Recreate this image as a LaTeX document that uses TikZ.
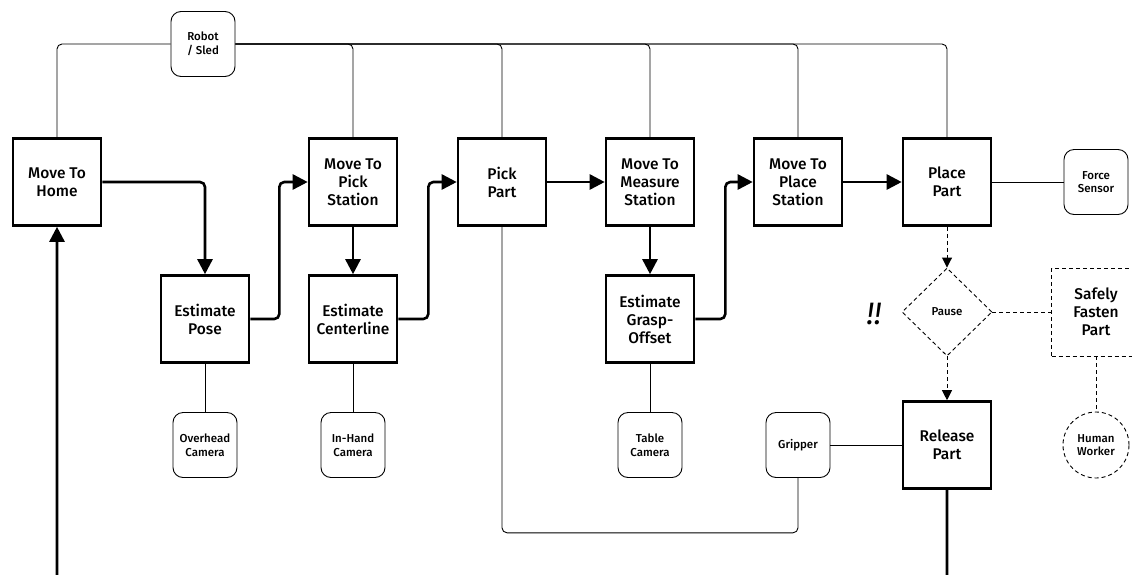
\documentclass[tikz,border=0pt]{standalone}
\usepackage{fontspec}
\setmainfont{Fira Sans Medium}
\newfontfamily\exclfont{Fira Sans}
\usetikzlibrary{arrows.meta,shapes.geometric}
\begin{document}
\begin{tikzpicture}[x=1pt,y=-1pt,
 proc/.style={draw,line width=2.6pt,minimum width=88pt,minimum height=87pt,align=center,font=\fontsize{15.5}{18}\selectfont,inner sep=0pt},
 dev/.style={draw,line width=0.9pt,rounded corners=10pt,minimum width=64pt,minimum height=65pt,align=center,font=\fontsize{11.5}{13.5}\selectfont,inner sep=0pt,fill=white},
 flow/.style={line width=2.6pt,rounded corners=5pt,-{Triangle[length=15pt,width=15pt]}},
 link/.style={line width=0.9pt,rounded corners=5pt},
 dlink/.style={line width=0.9pt,dash pattern=on 4pt off 3pt},
 dtip/.style={-{Triangle[length=10pt,width=10pt]}},
]
\clip (0,0) rectangle (1132,574);
\fill[white] (0,0) rectangle (1132,574);
% process boxes
\node[proc] (home) at (57,182) {Move To\\Home};
\node[proc] (pick) at (353,182) {Move To\\Pick\\Station};
\node[proc] (pp) at (502,182) {Pick\\Part};
\node[proc] (meas) at (650,182) {Move To\\Measure\\Station};
\node[proc] (mplace) at (798,182) {Move To\\Place\\Station};
\node[proc] (place) at (947,182) {Place\\Part};
\node[proc] (pose) at (205,319) {Estimate\\Pose};
\node[proc] (cent) at (353,319) {Estimate\\Centerline};
\node[proc] (grasp) at (650,319) {Estimate\\Grasp-\\Offset};
\node[proc] (rel) at (947,445) {Release\\Part};
% human part
\node[draw,diamond,dash pattern=on 4pt off 3pt,line width=0.9pt,minimum width=90pt,minimum height=88pt,inner sep=0pt,font=\fontsize{11.5}{13.5}\selectfont] (pause) at (947,312) {Pause};
\node[draw,dash pattern=on 4pt off 3pt,line width=0.9pt,minimum width=89pt,minimum height=88pt,align=center,inner sep=0pt,font=\fontsize{15.5}{18}\selectfont] (safe) at (1096,312) {Safely\\Fasten\\Part};
\node[draw,circle,dash pattern=on 4pt off 3pt,line width=0.9pt,minimum size=66pt,align=center,inner sep=0pt,font=\fontsize{11.5}{13.5}\selectfont] (human) at (1096,445) {Human\\Worker};
\node[font=\exclfont\fontsize{31}{31}\selectfont\itshape] (excl) at (874,314) {!!};
% devices
\node[dev] (robot) at (203,44) {Robot\\/ Sled};
\node[dev] (force) at (1096,182) {Force\\Sensor};
\node[dev] (overhead) at (205,445) {Overhead\\Camera};
\node[dev] (inhand) at (353,445) {In-Hand\\Camera};
\node[dev] (table) at (650,445) {Table\\Camera};
\node[dev] (gripper) at (798,445) {Gripper};
% robot links
\draw[link] (robot.west) -| (home.north);
\foreach \n in {pick,pp,meas,mplace,place} \draw[link] (robot.east) -| (\n.north);
\draw[link] (pp.south) -- ++(0,306) -| (gripper.south);
\draw[link] (gripper.east) -- (rel.west);
\draw[link] (place.east) -- (force.west);
\draw[link] (pose.south) -- (overhead.north);
\draw[link] (cent.south) -- (inhand.north);
\draw[link] (grasp.south) -- (table.north);
% flow
\draw[flow] (home.east) -| (pose.north);
\draw[flow] (pose.east) -- ++(29,0) |- (pick.west);
\draw[flow] (pick.south) -- (cent.north);
\draw[flow] (cent.east) -- ++(30,0) |- (pp.west);
\draw[flow] (pp) -- (meas);
\draw[flow] (meas) -- (grasp);
\draw[flow] (grasp.east) -- ++(30,0) |- (mplace.west);
\draw[flow] (mplace) -- (place);
\coordinate (loopR) at (947,610);
\coordinate (loopL) at (57,610);
\draw[flow] (rel.south) -- (loopR) -- (loopL) -- (home.south);
% dashed
\draw[dlink,dtip] (place.south) -- (pause.north);
\draw[dlink,dtip] (pause.south) -- (rel.north);
\draw[dlink] (pause.east) -- (safe.west);
\draw[dlink] (safe.south) -- (human.north);
\end{tikzpicture}
\end{document}
